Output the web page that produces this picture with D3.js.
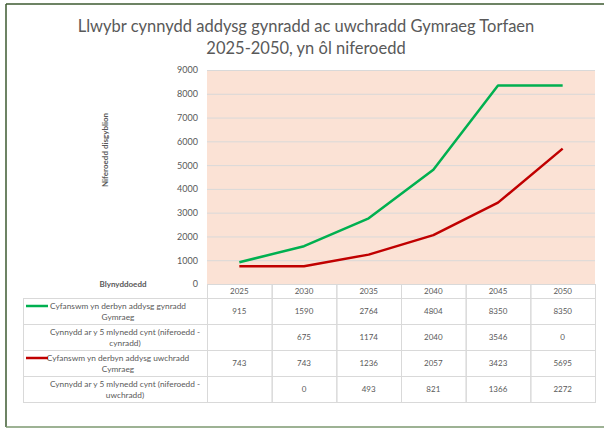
<!DOCTYPE html>
<html>
<head>
<meta charset="utf-8">
<script src="https://cdn.jsdelivr.net/npm/d3@7"></script>
<style>
  body { margin: 0; background: #fff; }
  svg { display: block; font-family: Lato, "Open Sans", sans-serif; }
</style>
</head>
<body>
<div id="chart"></div>
<script>
// data
const years = ["2025", "2030", "2035", "2040", "2045", "2050"];
const primaryTotal = [915, 1590, 2764, 4804, 8350, 8350];
const primaryGrowth = [null, 675, 1174, 2040, 3546, 0];
const secondaryTotal = [743, 743, 1236, 2057, 3423, 5695];
const secondaryGrowth = [null, 0, 493, 821, 1366, 2272];
const yTicks = [0, 1000, 2000, 3000, 4000, 5000, 6000, 7000, 8000, 9000];

const rowLabels = [
  ["Cyfanswm yn derbyn addysg gynradd", "Gymraeg"],
  ["Cynnydd ar y 5 mlynedd cynt (niferoedd -", "cynradd)"],
  ["Cyfanswm yn derbyn addysg uwchradd", "Cymraeg"],
  ["Cynnydd ar y 5 mlynedd cynt (niferoedd -", "uwchradd)"]
];
const rowValues = [primaryTotal, primaryGrowth, secondaryTotal, secondaryGrowth];
const rowKeys = ["#00B050", null, "#C00000", null];

const W = 604, H = 428;
const plot = { left: 207, right: 595, top: 70, bottom: 284 };
const tableLeft = 23;
const headerBottom = 298;
const rowH = 26;

const svg = d3.select('#chart').append('svg')
  .attr('width', W)
  .attr('height', H);

// frame
svg.append('line').attr('x1', 6).attr('y1', 4).attr('x2', W).attr('y2', 4)
  .attr('stroke', '#3d5a30').attr('stroke-width', 1.5);
svg.append('line').attr('x1', 6).attr('y1', 4).attr('x2', 6).attr('y2', 427)
  .attr('stroke', '#3d5a30').attr('stroke-width', 1.5);
svg.append('line').attr('x1', 6).attr('y1', 427).attr('x2', W).attr('y2', 427)
  .attr('stroke', '#7d9970').attr('stroke-width', 1.5);

// title
const title = svg.append('text')
  .attr('x', 306)
  .attr('text-anchor', 'middle')
  .attr('fill', '#595959')
  .attr('font-size', 16.5);
title.append('tspan').attr('x', 306).attr('y', 32)
  .text('Llwybr cynnydd addysg gynradd ac uwchradd Gymraeg Torfaen');
title.append('tspan').attr('x', 306).attr('y', 54)
  .text('2025-2050, yn ôl niferoedd');

// scales
const x = d3.scaleBand()
  .domain(years)
  .range([plot.left, plot.right]);

const y = d3.scaleLinear()
  .domain([0, 9000])
  .range([plot.bottom, plot.top]);

// plot area
svg.append('rect')
  .attr('x', plot.left)
  .attr('y', plot.top)
  .attr('width', plot.right - plot.left)
  .attr('height', plot.bottom - plot.top)
  .attr('fill', '#FBE2D5');

// gridlines + y axis
const yAxis = d3.axisLeft(y)
  .tickValues(yTicks)
  .tickFormat(d3.format('d'))
  .tickSize(-(plot.right - plot.left))
  .tickPadding(9);

const gy = svg.append('g')
  .attr('transform', `translate(${plot.left},0)`)
  .call(yAxis);
gy.select('.domain').remove();
gy.selectAll('line')
  .attr('stroke', '#D9D9D9')
  .attr('stroke-width', 1)
  .filter(d => d === 0).remove();
gy.selectAll('text')
  .attr('fill', '#595959')
  .attr('font-size', 9)
  .attr('font-family', 'Lato, sans-serif');

// axis titles
svg.append('text')
  .attr('transform', 'translate(108,150) rotate(-90)')
  .attr('text-anchor', 'middle')
  .attr('font-size', 8)
  .attr('font-weight', 'bold')
  .attr('fill', '#595959')
  .text('Niferoedd disgyblion');

svg.append('text')
  .attr('x', 123)
  .attr('y', 287)
  .attr('text-anchor', 'middle')
  .attr('font-size', 8)
  .attr('font-weight', 'bold')
  .attr('fill', '#595959')
  .text('Blynyddoedd');

// lines
const line = d3.line()
  .x((d, i) => x(years[i]) + x.bandwidth() / 2)
  .y(d => y(d));

svg.append('path')
  .datum(primaryTotal)
  .attr('d', line)
  .attr('fill', 'none')
  .attr('stroke', '#00B050')
  .attr('stroke-width', 2.5)
  .attr('stroke-linejoin', 'round');

svg.append('path')
  .datum(secondaryTotal)
  .attr('d', line)
  .attr('fill', 'none')
  .attr('stroke', '#C00000')
  .attr('stroke-width', 2.5)
  .attr('stroke-linejoin', 'round');

// data table
const tbl = svg.append('g').attr('class', 'table');
const grid = '#D9D9D9';

// header row (years)
years.forEach(yr => {
  tbl.append('rect')
    .attr('x', x(yr) + 0.5)
    .attr('y', plot.bottom + 0.5)
    .attr('width', x.bandwidth())
    .attr('height', headerBottom - plot.bottom)
    .attr('fill', 'none')
    .attr('stroke', grid);
  tbl.append('text')
    .attr('x', x(yr) + x.bandwidth() / 2)
    .attr('y', plot.bottom + 10)
    .attr('text-anchor', 'middle')
    .attr('font-size', 8)
    .attr('fill', '#595959')
    .text(yr);
});

rowLabels.forEach((lbl, r) => {
  const top = headerBottom + r * rowH;
  // label cell
  tbl.append('rect')
    .attr('x', tableLeft + 0.5)
    .attr('y', top + 0.5)
    .attr('width', plot.left - tableLeft)
    .attr('height', rowH)
    .attr('fill', 'none')
    .attr('stroke', grid);
  const cx = rowKeys[r] ? 118 : 125;
  const t = tbl.append('text')
    .attr('text-anchor', 'middle')
    .attr('font-size', 8.3)
    .attr('fill', '#595959');
  t.append('tspan').attr('x', cx).attr('y', top + 11).text(lbl[0]);
  t.append('tspan').attr('x', cx).attr('y', top + 22).text(lbl[1]);
  if (rowKeys[r]) {
    tbl.append('line')
      .attr('x1', 26).attr('x2', 48)
      .attr('y1', top + 8).attr('y2', top + 8)
      .attr('stroke', rowKeys[r])
      .attr('stroke-width', 2.5);
  }
  // value cells
  years.forEach((yr, i) => {
    tbl.append('rect')
      .attr('x', x(yr) + 0.5)
      .attr('y', top + 0.5)
      .attr('width', x.bandwidth())
      .attr('height', rowH)
      .attr('fill', 'none')
      .attr('stroke', grid);
    const v = rowValues[r][i];
    if (v !== null) {
      tbl.append('text')
        .attr('x', x(yr) + x.bandwidth() / 2)
        .attr('y', top + rowH / 2 + 3)
        .attr('text-anchor', 'middle')
        .attr('font-size', 8)
        .attr('fill', '#595959')
        .text(v);
    }
  });
});
</script>
</body>
</html>
